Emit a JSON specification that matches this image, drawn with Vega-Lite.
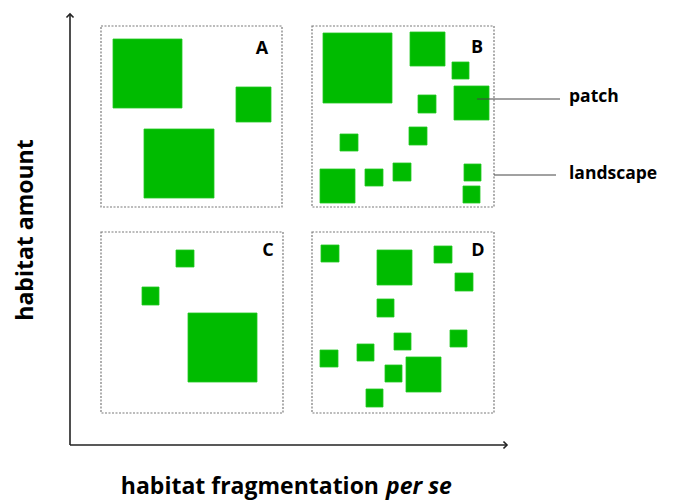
{
  "$schema": "https://vega.github.io/schema/vega-lite/v6.json",
  "width": 675,
  "height": 501,
  "autosize": {"type": "fit", "contains": "padding"},
  "padding": 0,
  "background": "white",
  "config": {"view": {"stroke": null}},
  "datasets": {
    "boxes": [
      {"panel": "A", "x": 101, "x2": 282, "y": 26, "y2": 207},
      {"panel": "B", "x": 312, "x2": 494, "y": 26, "y2": 207},
      {"panel": "C", "x": 101, "x2": 283, "y": 232, "y2": 413},
      {"panel": "D", "x": 312, "x2": 494, "y": 232, "y2": 413}
    ],
    "patches": [
      {"panel": "A", "x": 113, "x2": 182, "y": 39, "y2": 108},
      {"panel": "A", "x": 236, "x2": 271, "y": 87, "y2": 122},
      {"panel": "A", "x": 144, "x2": 214, "y": 129, "y2": 198},
      {"panel": "B", "x": 323, "x2": 392, "y": 33, "y2": 103},
      {"panel": "B", "x": 410, "x2": 445, "y": 32, "y2": 66},
      {"panel": "B", "x": 452, "x2": 469, "y": 62, "y2": 79},
      {"panel": "B", "x": 454, "x2": 489, "y": 86, "y2": 120},
      {"panel": "B", "x": 418, "x2": 436, "y": 95, "y2": 113},
      {"panel": "B", "x": 409, "x2": 427, "y": 127, "y2": 145},
      {"panel": "B", "x": 340, "x2": 358, "y": 134, "y2": 151},
      {"panel": "B", "x": 320, "x2": 355, "y": 169, "y2": 203},
      {"panel": "B", "x": 365, "x2": 383, "y": 169, "y2": 186},
      {"panel": "B", "x": 393, "x2": 411, "y": 163, "y2": 181},
      {"panel": "B", "x": 464, "x2": 481, "y": 164, "y2": 181},
      {"panel": "B", "x": 463, "x2": 480, "y": 186, "y2": 203},
      {"panel": "C", "x": 176, "x2": 194, "y": 250, "y2": 267},
      {"panel": "C", "x": 142, "x2": 159, "y": 287, "y2": 305},
      {"panel": "C", "x": 188, "x2": 257, "y": 313, "y2": 382},
      {"panel": "D", "x": 321, "x2": 339, "y": 245, "y2": 262},
      {"panel": "D", "x": 377, "x2": 412, "y": 250, "y2": 285},
      {"panel": "D", "x": 434, "x2": 452, "y": 246, "y2": 263},
      {"panel": "D", "x": 455, "x2": 473, "y": 273, "y2": 291},
      {"panel": "D", "x": 377, "x2": 394, "y": 299, "y2": 317},
      {"panel": "D", "x": 394, "x2": 411, "y": 333, "y2": 350},
      {"panel": "D", "x": 450, "x2": 467, "y": 330, "y2": 347},
      {"panel": "D", "x": 320, "x2": 338, "y": 350, "y2": 367},
      {"panel": "D", "x": 357, "x2": 374, "y": 344, "y2": 361},
      {"panel": "D", "x": 385, "x2": 402, "y": 365, "y2": 382},
      {"panel": "D", "x": 406, "x2": 441, "y": 357, "y2": 392},
      {"panel": "D", "x": 366, "x2": 383, "y": 389, "y2": 407}
    ],
    "axes": [
      {"name": "habitat amount", "x": 70, "x2": 70, "y": 14, "y2": 445},
      {"name": "fragmentation", "x": 70, "x2": 507, "y": 445, "y2": 445}
    ],
    "arrows": [
      {"name": "habitat amount", "dir": "up", "x": 70, "y": 14},
      {"name": "fragmentation", "dir": "right", "x": 507, "y": 445}
    ],
    "leaders": [
      {"name": "patch", "x": 477, "x2": 560, "y": 99, "y2": 99},
      {"name": "landscape", "x": 494, "x2": 556, "y": 175, "y2": 175}
    ],
    "labels": [
      {"role": "panel", "text": "A", "x": 262, "y": 49},
      {"role": "panel", "text": "B", "x": 477, "y": 48},
      {"role": "panel", "text": "C", "x": 268, "y": 251},
      {"role": "panel", "text": "D", "x": 478, "y": 251},
      {"role": "callout", "text": "patch", "x": 569, "y": 97},
      {"role": "callout", "text": "landscape", "x": 569, "y": 174},
      {"role": "ytitle", "text": "habitat amount", "x": 33, "y": 230},
      {"role": "xtitle", "text": "habitat fragmentation", "x": 379, "y": 494},
      {"role": "xtitle-it", "text": "per se", "x": 386, "y": 494}
    ]
  },
  "encoding": {
    "x": {"type": "quantitative", "scale": {"domain": [0, 675], "nice": false, "zero": false}, "axis": null},
    "y": {"type": "quantitative", "scale": {"domain": [0, 501], "nice": false, "zero": false, "reverse": true}, "axis": null}
  },
  "layer": [
    {
      "data": {"name": "boxes"},
      "mark": {"type": "rect", "fill": "white", "stroke": "#7a7a7a", "strokeWidth": 1.2, "strokeDash": [2, 1.5]},
      "encoding": {
        "x": {"field": "x", "type": "quantitative"},
        "x2": {"field": "x2"},
        "y": {"field": "y", "type": "quantitative"},
        "y2": {"field": "y2"}
      }
    },
    {
      "data": {"name": "patches"},
      "mark": {"type": "rect", "fill": "#00bb00", "stroke": "#22c822", "strokeWidth": 0.8},
      "encoding": {
        "x": {"field": "x", "type": "quantitative"},
        "x2": {"field": "x2"},
        "y": {"field": "y", "type": "quantitative"},
        "y2": {"field": "y2"}
      }
    },
    {
      "data": {"name": "axes"},
      "mark": {"type": "rule", "color": "#222222", "strokeWidth": 1.6},
      "encoding": {
        "x": {"field": "x", "type": "quantitative"},
        "x2": {"field": "x2"},
        "y": {"field": "y", "type": "quantitative"},
        "y2": {"field": "y2"}
      }
    },
    {
      "data": {"name": "arrows"},
      "mark": {"type": "point", "shape": "M-1,1L0,0L1,1", "filled": false, "stroke": "#222222", "strokeWidth": 1.6, "size": 50, "opacity": 1},
      "encoding": {
        "x": {"field": "x", "type": "quantitative"},
        "y": {"field": "y", "type": "quantitative"},
        "angle": {"field": "dir", "type": "nominal", "scale": {"domain": ["up", "right"], "range": [0, 90]}, "legend": null}
      }
    },
    {
      "data": {"name": "leaders"},
      "mark": {"type": "rule", "color": "#444444", "strokeWidth": 1},
      "encoding": {
        "x": {"field": "x", "type": "quantitative"},
        "x2": {"field": "x2"},
        "y": {"field": "y", "type": "quantitative"},
        "y2": {"field": "y2"}
      }
    },
    {
      "data": {"name": "labels"},
      "transform": [{"filter": "datum.role === 'panel'"}],
      "mark": {"type": "text", "font": "Open Sans", "fontWeight": "bold", "fontSize": 18, "align": "center", "baseline": "middle", "color": "black"},
      "encoding": {
        "x": {"field": "x", "type": "quantitative"},
        "y": {"field": "y", "type": "quantitative"},
        "text": {"field": "text"}
      }
    },
    {
      "data": {"name": "labels"},
      "transform": [{"filter": "datum.role === 'callout'"}],
      "mark": {"type": "text", "font": "Open Sans", "fontWeight": "bold", "fontSize": 17.5, "align": "left", "baseline": "middle", "color": "black"},
      "encoding": {
        "x": {"field": "x", "type": "quantitative"},
        "y": {"field": "y", "type": "quantitative"},
        "text": {"field": "text"}
      }
    },
    {
      "data": {"name": "labels"},
      "transform": [{"filter": "datum.role === 'ytitle'"}],
      "mark": {"type": "text", "font": "Open Sans", "fontWeight": "bold", "fontSize": 23, "align": "center", "baseline": "alphabetic", "angle": 270, "color": "black"},
      "encoding": {
        "x": {"field": "x", "type": "quantitative"},
        "y": {"field": "y", "type": "quantitative"},
        "text": {"field": "text"}
      }
    },
    {
      "data": {"name": "labels"},
      "transform": [{"filter": "datum.role === 'xtitle'"}],
      "mark": {"type": "text", "font": "Open Sans", "fontWeight": "bold", "fontSize": 23, "align": "right", "baseline": "alphabetic", "color": "black"},
      "encoding": {
        "x": {"field": "x", "type": "quantitative"},
        "y": {"field": "y", "type": "quantitative"},
        "text": {"field": "text"}
      }
    },
    {
      "data": {"name": "labels"},
      "transform": [{"filter": "datum.role === 'xtitle-it'"}],
      "mark": {"type": "text", "font": "Open Sans", "fontWeight": "bold", "fontStyle": "italic", "fontSize": 23, "align": "left", "baseline": "alphabetic", "color": "black"},
      "encoding": {
        "x": {"field": "x", "type": "quantitative"},
        "y": {"field": "y", "type": "quantitative"},
        "text": {"field": "text"}
      }
    }
  ]
}
